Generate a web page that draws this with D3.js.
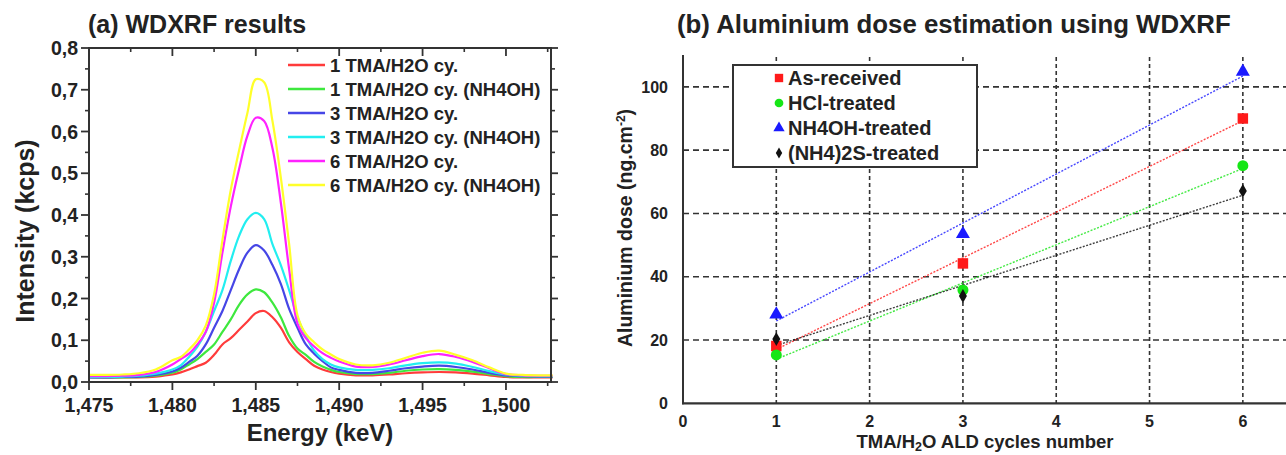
<!DOCTYPE html>
<html>
<head>
<meta charset="utf-8">
<script src="https://cdn.jsdelivr.net/npm/d3@7"></script>
<style>
  html, body { margin: 0; padding: 0; background: #fff; }
  svg { display: block; font-family: "Liberation Sans", Arial, sans-serif; }
</style>
</head>
<body>
<svg id="fig" width="1286" height="455"></svg>
<script>
// ---------- (a) WDXRF spectra ----------
const energyKeV = [1.475, 1.476, 1.477, 1.478, 1.479, 1.480, 1.4805, 1.481, 1.4815, 1.482, 1.4825,
  1.483, 1.4835, 1.484, 1.4845, 1.485, 1.4855, 1.486, 1.4865, 1.487, 1.4875, 1.488, 1.4885, 1.489,
  1.4895, 1.490, 1.491, 1.492, 1.493, 1.494, 1.495, 1.496, 1.497, 1.498, 1.499, 1.500, 1.501, 1.502, 1.5028];

const cy1 = [0.012, 0.011, 0.011, 0.011, 0.013, 0.018, 0.023, 0.030, 0.038, 0.046, 0.065,
  0.090, 0.105, 0.125, 0.145, 0.165, 0.170, 0.155, 0.130, 0.095, 0.072, 0.055, 0.039, 0.030,
  0.024, 0.020, 0.016, 0.016, 0.018, 0.021, 0.023, 0.024, 0.023, 0.020, 0.016, 0.012, 0.011, 0.011, 0.011];
const cy1NH4OH = [0.011, 0.011, 0.011, 0.012, 0.015, 0.022, 0.030, 0.042, 0.055, 0.072, 0.090,
  0.120, 0.150, 0.185, 0.210, 0.222, 0.215, 0.190, 0.155, 0.110, 0.080, 0.065, 0.048, 0.037,
  0.029, 0.024, 0.019, 0.019, 0.022, 0.027, 0.030, 0.031, 0.029, 0.025, 0.019, 0.014, 0.012, 0.012, 0.012];
const cy3 = [0.011, 0.011, 0.012, 0.013, 0.017, 0.025, 0.034, 0.048, 0.063, 0.090, 0.130,
  0.170, 0.220, 0.270, 0.310, 0.328, 0.315, 0.280, 0.235, 0.175, 0.130, 0.090, 0.068, 0.050,
  0.035, 0.029, 0.022, 0.022, 0.027, 0.033, 0.037, 0.039, 0.036, 0.030, 0.022, 0.016, 0.014, 0.013, 0.013];
const cy3NH4OH = [0.012, 0.012, 0.013, 0.015, 0.020, 0.030, 0.040, 0.060, 0.085, 0.120, 0.170,
  0.220, 0.290, 0.350, 0.390, 0.405, 0.390, 0.330, 0.280, 0.220, 0.155, 0.110, 0.075, 0.055,
  0.042, 0.035, 0.029, 0.029, 0.033, 0.040, 0.045, 0.047, 0.044, 0.036, 0.026, 0.018, 0.015, 0.014, 0.014];
const cy6 = [0.014, 0.014, 0.015, 0.017, 0.024, 0.042, 0.055, 0.068, 0.090, 0.120, 0.190,
  0.310, 0.420, 0.510, 0.590, 0.633, 0.625, 0.560, 0.430, 0.270, 0.140, 0.105, 0.085, 0.069,
  0.058, 0.049, 0.037, 0.036, 0.042, 0.052, 0.062, 0.067, 0.060, 0.048, 0.033, 0.019, 0.016, 0.015, 0.015];
const cy6NH4OH = [0.017, 0.017, 0.018, 0.021, 0.030, 0.052, 0.060, 0.078, 0.100, 0.135, 0.210,
  0.340, 0.460, 0.555, 0.645, 0.725, 0.718, 0.625, 0.490, 0.330, 0.160, 0.115, 0.095, 0.078,
  0.066, 0.055, 0.042, 0.040, 0.046, 0.058, 0.070, 0.075, 0.065, 0.052, 0.035, 0.020, 0.017, 0.016, 0.016];

const spectraNames = ["1 TMA/H2O cy.", "1 TMA/H2O cy. (NH4OH)", "3 TMA/H2O cy.",
  "3 TMA/H2O cy. (NH4OH)", "6 TMA/H2O cy.", "6 TMA/H2O cy. (NH4OH)"];
const spectraValues = [cy1, cy1NH4OH, cy3, cy3NH4OH, cy6, cy6NH4OH];
const spectraColors = ["#ff3b3b", "#3ee83e", "#4646e6", "#22eef0", "#ff22ff", "#ffff2a"];

const energyTicks = [1.475, 1.480, 1.485, 1.490, 1.495, 1.500];
const intensityTicks = [0, 0.1, 0.2, 0.3, 0.4, 0.5, 0.6, 0.7, 0.8];

// ---------- (b) Aluminium dose ----------
const aldCycles = [1, 3, 6];
const doseAsReceived = [18.1, 44.2, 90.0];
const doseHCl = [15.3, 35.8, 75.1];
const doseNH4OH = [28.1, 53.5, 104.8];
const doseNH42S = [20.3, 33.9, 67.1];
const treatmentNames = ["As-received", "HCl-treated", "NH4OH-treated", "(NH4)2S-treated"];
const treatmentValues = [doseAsReceived, doseHCl, doseNH4OH, doseNH42S];
const treatmentColors = ["#ff1a1a", "#16e616", "#1a1aff", "#111111"];
const treatmentSymbols = [d3.symbolSquare, d3.symbolCircle, d3.symbolTriangle, d3.symbolDiamond];
const cycleTicks = [0, 1, 2, 3, 4, 5, 6];
const doseTicks = [0, 20, 40, 60, 80, 100];

const svg = d3.select("#fig");
const ink = "#222";
const comma = d3.formatLocale({decimal: ",", thousands: ".", grouping: [3], currency: ["", ""]});

// ================= panel (a) =================
const xA = d3.scaleLinear().domain([1.475, 1.5027]).range([89, 551]);
const yA = d3.scaleLinear().domain([0, 0.8]).range([382, 48]);
const gA = svg.append("g");

gA.append("text").attr("x", 88).attr("y", 33)
  .attr("font-size", 25).attr("font-weight", "bold").attr("fill", ink)
  .text("(a) WDXRF results");

const line = d3.line().curve(d3.curveCatmullRom.alpha(0.5));
spectraValues.forEach((vals, i) => {
  gA.append("path")
    .attr("d", line(energyKeV.map((e, k) => [xA(e), yA(vals[k])])))
    .attr("fill", "none").attr("stroke", spectraColors[i]).attr("stroke-width", 2.2);
});

// axes
const fmtE = comma.format(".3f");
const fmtI = comma.format(".1f");
const minorE = d3.range(1.4775, 1.503, 0.005);
const minorI = d3.range(0.05, 0.8, 0.1);

const axA = gA.append("g").attr("stroke", "#333");
axA.append("line").attr("x1", 89).attr("x2", 89).attr("y1", 48).attr("y2", 383).attr("stroke-width", 2);
axA.append("line").attr("x1", 88).attr("x2", 551).attr("y1", 382).attr("y2", 382).attr("stroke-width", 2);
axA.append("line").attr("x1", 88).attr("x2", 551).attr("y1", 48).attr("y2", 48).attr("stroke-width", 2);
axA.append("line").attr("x1", 551).attr("x2", 551).attr("y1", 47).attr("y2", 383).attr("stroke-width", 2);

energyTicks.forEach(t => {
  axA.append("line").attr("x1", xA(t)).attr("x2", xA(t)).attr("y1", 382).attr("y2", 390).attr("stroke-width", 1.8);
  axA.append("line").attr("x1", xA(t)).attr("x2", xA(t)).attr("y1", 48).attr("y2", 56).attr("stroke-width", 1.8);
});
minorE.forEach(t => {
  axA.append("line").attr("x1", xA(t)).attr("x2", xA(t)).attr("y1", 382).attr("y2", 386).attr("stroke-width", 1.6);
  axA.append("line").attr("x1", xA(t)).attr("x2", xA(t)).attr("y1", 48).attr("y2", 52).attr("stroke-width", 1.6);
});
intensityTicks.forEach(t => {
  axA.append("line").attr("x1", 81).attr("x2", 89).attr("y1", yA(t)).attr("y2", yA(t)).attr("stroke-width", 1.8);
  axA.append("line").attr("x1", 551).attr("x2", 558).attr("y1", yA(t)).attr("y2", yA(t)).attr("stroke-width", 1.8);
});
minorI.forEach(t => {
  axA.append("line").attr("x1", 85).attr("x2", 89).attr("y1", yA(t)).attr("y2", yA(t)).attr("stroke-width", 1.6);
  axA.append("line").attr("x1", 551).attr("x2", 555).attr("y1", yA(t)).attr("y2", yA(t)).attr("stroke-width", 1.6);
});

gA.append("g").selectAll("text").data(energyTicks).join("text")
  .attr("x", d => xA(d)).attr("y", 412).attr("text-anchor", "middle")
  .attr("font-size", 19.5).attr("font-weight", "bold").attr("fill", ink)
  .text(d => fmtE(d));
gA.append("g").selectAll("text").data(intensityTicks).join("text")
  .attr("x", 78).attr("y", d => yA(d)).attr("dy", "0.36em").attr("text-anchor", "end")
  .attr("font-size", 19.5).attr("font-weight", "bold").attr("fill", ink)
  .text(d => fmtI(d));

gA.append("text").attr("x", 320).attr("y", 441).attr("text-anchor", "middle")
  .attr("font-size", 24).attr("font-weight", "bold").attr("fill", ink).text("Energy (keV)");
gA.append("text").attr("transform", "translate(34,231) rotate(-90)").attr("text-anchor", "middle")
  .attr("font-size", 25).attr("font-weight", "bold").attr("fill", ink).text("Intensity (kcps)");

// legend
const legA = gA.append("g");
spectraNames.forEach((name, i) => {
  const y = 65 + i * 24;
  legA.append("line").attr("x1", 288).attr("x2", 325).attr("y1", y).attr("y2", y)
    .attr("stroke", spectraColors[i]).attr("stroke-width", 2.5);
  legA.append("text").attr("x", 330).attr("y", y).attr("dy", "0.36em")
    .attr("font-size", 18.5).attr("font-weight", "bold").attr("fill", ink).text(name);
});

// ================= panel (b) =================
const xB = d3.scaleLinear().domain([0, 6.5]).range([683, 1289.5]);
const yB = d3.scaleLinear().domain([0, 110]).range([403.3, 55.2]);
const gB = svg.append("g");

gB.append("text").attr("x", 677).attr("y", 33)
  .attr("font-size", 25.8).attr("font-weight", "bold").attr("fill", ink)
  .text("(b) Aluminium dose estimation using WDXRF");

// grid
const grid = gB.append("g").attr("stroke", "#333").attr("stroke-width", 1.6);
cycleTicks.filter(t => t > 0).forEach(t => {
  grid.append("line").attr("x1", xB(t)).attr("x2", xB(t)).attr("y1", 57).attr("y2", yB(0))
    .attr("stroke-dasharray", "4,3");
});
doseTicks.filter(t => t > 0).forEach(t => {
  grid.append("line").attr("x1", xB(0)).attr("x2", 1286).attr("y1", yB(t)).attr("y2", yB(t))
    .attr("stroke-dasharray", "6,4");
});

// least-squares trend lines through each treatment
treatmentValues.forEach((vals, i) => {
  const mx = d3.mean(aldCycles), my = d3.mean(vals);
  const sxy = d3.sum(aldCycles, (x, k) => (x - mx) * (vals[k] - my));
  const sxx = d3.sum(aldCycles, x => (x - mx) * (x - mx));
  const slope = sxy / sxx, icpt = my - slope * mx;
  const x0 = d3.min(aldCycles), x1 = d3.max(aldCycles);
  gB.append("line")
    .attr("x1", xB(x0)).attr("y1", yB(icpt + slope * x0))
    .attr("x2", xB(x1)).attr("y2", yB(icpt + slope * x1))
    .attr("stroke", treatmentColors[i]).attr("stroke-width", 1.4)
    .attr("stroke-dasharray", "2,1.5").attr("opacity", 0.8);
});

// markers
const symSize = [110, 95, 85, 55];
treatmentValues.forEach((vals, i) => {
  gB.append("g").selectAll("path").data(aldCycles).join("path")
    .attr("transform", (d, k) => `translate(${xB(d)},${yB(vals[k])})`)
    .attr("d", d3.symbol().type(treatmentSymbols[i]).size(symSize[i]))
    .attr("fill", treatmentColors[i]);
});

// axes
gB.append("line").attr("x1", xB(0)).attr("x2", xB(0)).attr("y1", 55).attr("y2", yB(0) + 1)
  .attr("stroke", "#333").attr("stroke-width", 2);
gB.append("line").attr("x1", xB(0) - 1).attr("x2", 1286).attr("y1", yB(0)).attr("y2", yB(0))
  .attr("stroke", "#333").attr("stroke-width", 2.2);

gB.append("g").selectAll("text").data(cycleTicks).join("text")
  .attr("x", d => xB(d)).attr("y", 427).attr("text-anchor", "middle")
  .attr("font-size", 16).attr("font-weight", "bold").attr("fill", ink).text(d => d);
gB.append("g").selectAll("text").data(doseTicks).join("text")
  .attr("x", 668).attr("y", d => yB(d)).attr("dy", "0.36em").attr("text-anchor", "end")
  .attr("font-size", 16).attr("font-weight", "bold").attr("fill", ink).text(d => d);

const xlab = gB.append("text").attr("x", 985).attr("y", 448).attr("text-anchor", "middle")
  .attr("font-size", 18.5).attr("font-weight", "bold").attr("fill", ink);
xlab.append("tspan").text("TMA/H");
xlab.append("tspan").attr("font-size", 12.5).attr("dy", 3).text("2");
xlab.append("tspan").attr("dy", -3).text("O ALD cycles number");

const ylab = gB.append("text").attr("transform", "translate(632,228) rotate(-90)").attr("text-anchor", "middle")
  .attr("font-size", 19.5).attr("font-weight", "bold").attr("fill", ink);
ylab.append("tspan").text("Aluminium dose (ng.cm");
ylab.append("tspan").attr("font-size", 12).attr("dy", -7).text("-2");
ylab.append("tspan").attr("dy", 7).text(")");

// legend box
const legB = gB.append("g");
legB.append("rect").attr("x", 733).attr("y", 65).attr("width", 244).attr("height", 102)
  .attr("fill", "#fff").attr("stroke", "#333").attr("stroke-width", 2);
treatmentNames.forEach((name, i) => {
  const y = 78 + i * 25;
  legB.append("path").attr("transform", `translate(779,${y})`)
    .attr("d", d3.symbol().type(treatmentSymbols[i]).size([70, 60, 55, 35][i]))
    .attr("fill", treatmentColors[i]);
  legB.append("text").attr("x", 788).attr("y", y).attr("dy", "0.36em")
    .attr("font-size", 20).attr("font-weight", "bold").attr("fill", ink).text(name);
});
</script>
</body>
</html>
